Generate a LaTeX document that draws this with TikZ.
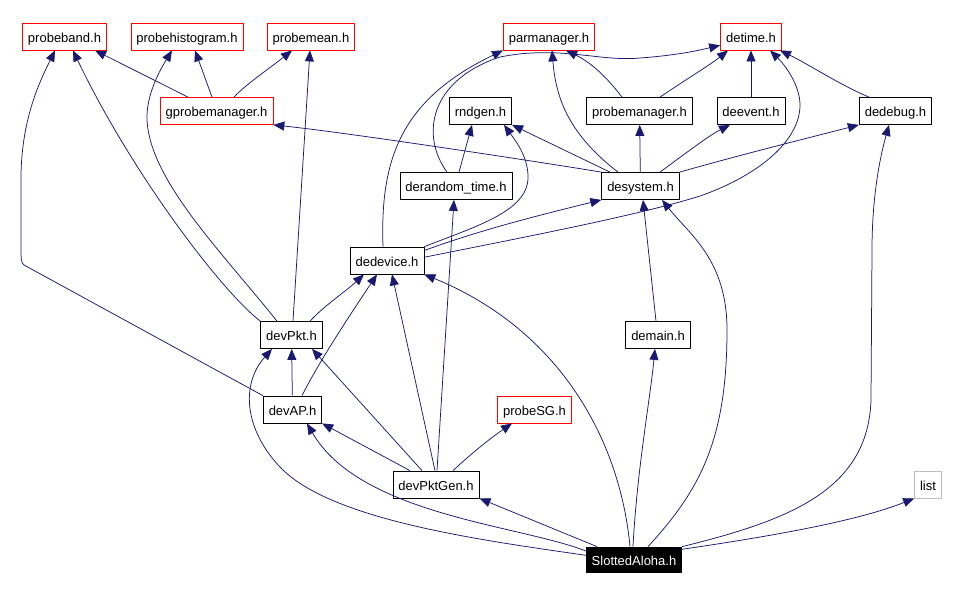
\documentclass[tikz,border=0pt]{standalone}
\usepackage{fontspec}
\setmainfont{Liberation Sans}
\usetikzlibrary{arrows.meta}
\definecolor{edgeblue}{HTML}{191970}
\definecolor{boxgray}{HTML}{BFBFBF}
\begin{document}
\begin{tikzpicture}[x=1pt,y=-1pt,>={Triangle[length=11pt,width=9pt]}, font=\fontsize{13}{15}\selectfont, line join=round,
hdr/.style={draw=black,line width=0.8pt,minimum height=27pt,inner xsep=5.5pt,inner ysep=0pt,text height=13pt,text depth=2pt,fill=white},
redhdr/.style={hdr,draw=red}, dep/.style={->,draw=edgeblue,line width=0.75pt}]
\useasboundingbox (0,0) rectangle (953,590);
\node[redhdr] (band) at (64.5,36.5) {probeband.h};
\node[redhdr] (hist) at (187,36.5) {probehistogram.h};
\node[redhdr] (mean) at (311,36.5) {probemean.h};
\node[redhdr] (parm) at (549,36.5) {parmanager.h};
\node[redhdr] (dtime) at (751,36.5) {detime.h};
\node[redhdr] (gpm) at (216.5,111) {gprobemanager.h};
\node[hdr] (rnd) at (480.5,111) {rndgen.h};
\node[hdr] (pman) at (639.5,111) {probemanager.h};
\node[hdr] (evt) at (751,111) {deevent.h};
\node[hdr] (dbg) at (895.5,111) {dedebug.h};
\node[hdr] (drt) at (456,186) {derandom\_time.h};
\node[hdr] (sys) at (640.5,186) {desystem.h};
\node[hdr] (dev) at (387,260.5) {dedevice.h};
\node[hdr] (pkt) at (291.5,335) {devPkt.h};
\node[hdr] (dmain) at (658,335) {demain.h};
\node[hdr] (ap) at (292.5,409.5) {devAP.h};
\node[redhdr] (psg) at (534.5,409.5) {probeSG.h};
\node[hdr] (pgen) at (436,484.5) {devPktGen.h};
\node[hdr,fill=black,text=white,minimum height=25pt] (sa) at (634,559.5) {SlottedAloha.h};
\node[hdr,draw=boxgray] (lst) at (928,484.5) {list};
\draw[dep] ([xshift=-37pt]sa.north) -- (pgen.south east);
\draw[dep] (sa.170) .. controls (520,525) and (360,515) .. ([xshift=14.5pt]ap.south);
\draw[dep] (sa.175) .. controls (480,540) and (330,520) .. (280,467) .. controls (245,430) and (240,385) .. ([xshift=-19.5pt]pkt.south);
\draw[dep] ([xshift=-4pt]sa.north) .. controls (620,440) and (560,330) .. (dev.south east);
\draw[dep] ([xshift=-1pt]sa.north) .. controls (637,470) and (650,400) .. ([xshift=-3pt]dmain.south);
\draw[dep] ([xshift=14pt]sa.north) .. controls (700,490) and (727,440) .. (727,330) .. controls (727,260) and (690,235) .. ([xshift=21.5pt]sys.south);
\draw[dep] (sa.north east) .. controls (790,520) and (868,490) .. (871,400) -- (872,250) .. controls (872,190) and (882,150) .. ([xshift=-6.5pt]dbg.south);
\draw[dep] (sa.12) .. controls (780,535) and (860,520) .. (lst.south west);
\draw[dep] ([xshift=-26pt]pgen.north) -- (ap.south east);
\draw[dep] ([xshift=-14pt]pgen.north) -- ([xshift=20.5pt]pkt.south);
\draw[dep] ([xshift=-1pt]pgen.north) -- ([xshift=5pt]dev.south);
\draw[dep] ([xshift=1pt]pgen.north) -- ([xshift=-2pt]drt.south);
\draw[dep] ([xshift=17pt]pgen.north) .. controls (475,450) and (495,435) .. ([xshift=-22.5pt]psg.south);
\draw[dep] (ap) -- (pkt);
\draw[dep] ([xshift=9.5pt]ap.north) .. controls (320,360) and (350,315) .. ([xshift=-10pt]dev.south);
\draw[dep] (ap.north west) -- (24,265) .. controls (21,263) and (21,258) .. (21,250) -- (21,175) .. controls (22,120) and (38,85) .. ([xshift=-9.5pt]band.south);
\draw[dep] ([xshift=18.5pt]pkt.north) .. controls (325,305) and (345,292) .. ([xshift=-23pt]dev.south);
\draw[dep] ([xshift=1.5pt]pkt.north) -- ([xshift=-1pt]mean.south);
\draw[dep] (pkt.north west) .. controls (220,290) and (130,170) .. ([xshift=8.5pt]band.south);
\draw[dep] ([xshift=-14.5pt]pkt.north) .. controls (220,250) and (150,180) .. (147,120) .. controls (146,95) and (160,70) .. ([xshift=-15pt]hist.south);
\draw[dep] ([xshift=-28.5pt]gpm.north) -- ([xshift=30.5pt]band.south);
\draw[dep] ([xshift=-4.5pt]gpm.north) -- ([xshift=8pt]hist.south);
\draw[dep] ([xshift=17.5pt]gpm.north) .. controls (245,85) and (270,68) .. ([xshift=-19pt]mean.south);
\draw[dep] (sys.north west) .. controls (540,162) and (350,133) .. (gpm.south east);
\draw[dep] ([xshift=-30.5pt]sys.north) -- (rnd.south east);
\draw[dep] ([xshift=-22.5pt]sys.north) .. controls (570,135) and (556,100) .. ([xshift=3pt]parm.south);
\draw[dep] (sys) -- (pman);
\draw[dep] ([xshift=19.5pt]sys.north) .. controls (690,150) and (710,135) .. ([xshift=-21pt]evt.south);
\draw[dep] (sys.north east) .. controls (740,155) and (800,140) .. (dbg.south west);
\draw[dep] (dev.15) .. controls (480,230) and (540,215) .. (sys.south west);
\draw[dep] ([xshift=-4pt]dev.north) .. controls (380,160) and (400,100) .. (parm.south west);
\draw[dep] (dev.5) .. controls (520,238) and (640,215) .. (700,196) .. controls (760,175) and (800,140) .. (800,105) .. controls (800,85) and (785,65) .. ([xshift=19pt]dtime.south);
\draw[dep] (dev.north east) .. controls (480,225) and (530,210) .. (528,175) .. controls (527,155) and (515,140) .. ([xshift=23.5pt]rnd.south);
\draw[dep] ([xshift=3pt]drt.north) -- ([xshift=-8.5pt]rnd.south);
\draw[dep] ([xshift=-9pt]drt.north) .. controls (420,135) and (430,80) .. (500,57) .. controls (560,45) and (600,62) .. (640,58) .. controls (680,55) and (700,50) .. (dtime.-164);
\draw[dep] ([xshift=-2pt]dmain.north) -- ([xshift=2.5pt]sys.south);
\draw[dep] ([xshift=-17.5pt]pman.north) .. controls (605,75) and (590,62) .. ([xshift=17pt]parm.south);
\draw[dep] ([xshift=20.5pt]pman.north) .. controls (685,80) and (710,65) .. ([xshift=-23pt]dtime.south);
\draw[dep] (evt) -- (dtime);
\draw[dep] ([xshift=-26.5pt]dbg.north) .. controls (840,85) and (810,65) .. ([xshift=29pt]dtime.south);
\end{tikzpicture}
\end{document}
